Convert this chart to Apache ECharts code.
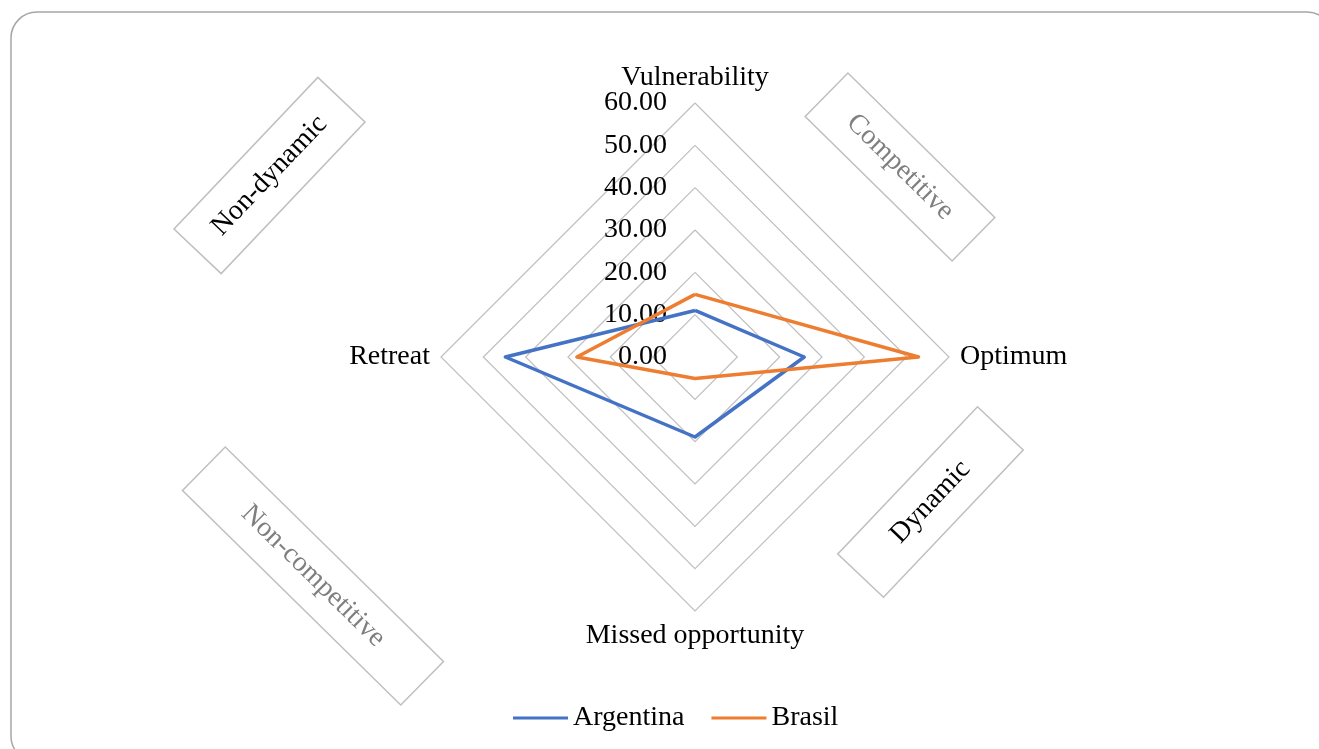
<!DOCTYPE html>
<html>
<head>
<meta charset="utf-8">
<script src="https://cdn.jsdelivr.net/npm/echarts@6/dist/echarts.min.js"></script>
<style>
  html, body { margin: 0; padding: 0; background: #ffffff; }
  #chart { width: 1319px; height: 749px; }
</style>
</head>
<body>
<div id="chart"></div>
<script>
// Radar axes, listed counter-clockwise from the top
const categories = ['Vulnerability', 'Retreat', 'Missed opportunity', 'Optimum'];
const argentina = [11.0, 44.8, 18.9, 25.8];
const brasil = [14.8, 27.9, 5.1, 52.8];
const axisMax = 60;
const tickStep = 10;

const FONT = '"Liberation Serif", "Times New Roman", serif';
const FS = 28;
const cx = 695, cy = 357, R = 254;

// Rotated quadrant captions
function captionBox(text, x, y, w, h, deg, color) {
  return {
    type: 'group',
    x: x, y: y,
    rotation: deg * Math.PI / 180,
    children: [
      { type: 'rect', shape: { x: -w / 2, y: -h / 2, width: w, height: h },
        style: { fill: '#ffffff', stroke: '#bfbfbf', lineWidth: 1.5 } },
      { type: 'text', x: 0, y: 0,
        style: { text: text, fill: color, font: FS + 'px ' + FONT, align: 'center', verticalAlign: 'middle' } }
    ]
  };
}

const chart = echarts.init(document.getElementById('chart'), null, { renderer: 'canvas' });
chart.setOption({
  animation: false,
  backgroundColor: '#ffffff',
  textStyle: { fontFamily: FONT },
  legend: {
    bottom: 12,
    left: 508,
    icon: 'rect',
    itemWidth: 55,
    itemHeight: 3,
    itemGap: 27,
    textStyle: { fontFamily: FONT, fontSize: FS, color: '#000000' },
    data: ['Argentina', 'Brasil']
  },
  radar: {
    center: [cx, cy],
    radius: R,
    shape: 'polygon',
    splitNumber: axisMax / tickStep,
    startAngle: 90,
    nameGap: 11,
    axisName: { color: '#000000', fontFamily: FONT, fontSize: FS },
    indicator: categories.map(name => ({ name: name, min: 0, max: axisMax })),
    axisLine: { show: false },
    axisTick: { show: false },
    axisLabel: { show: false },
    splitLine: { lineStyle: { color: '#bfbfbf', width: 1.2 } },
    splitArea: { show: false }
  },
  // value scale shown along the upper radar spoke
  grid: { left: cx, top: cy - R, width: 1, height: R },
  xAxis: { type: 'value', show: false },
  yAxis: {
    type: 'value', min: 0, max: axisMax, interval: tickStep,
    axisLine: { show: false }, axisTick: { show: false }, splitLine: { show: false },
    axisLabel: { margin: 28, fontFamily: FONT, fontSize: FS, color: '#000000',
      formatter: v => v.toFixed(2) }
  },
  series: [{
    type: 'radar',
    symbol: 'none',
    data: [
      { name: 'Argentina', value: argentina,
        lineStyle: { color: '#4472C4', width: 3.5 }, itemStyle: { color: '#4472C4' } },
      { name: 'Brasil', value: brasil,
        lineStyle: { color: '#ED7D31', width: 3.5 }, itemStyle: { color: '#ED7D31' } }
    ]
  }],
  graphic: [
    { type: 'rect', z: -10, silent: true,
      shape: { x: 11, y: 12, width: 1322, height: 750, r: 26 },
      style: { fill: 'none', stroke: '#a6a6a6', lineWidth: 1.5 } },
    captionBox('Non-dynamic', 269.5, 175.5, 209, 65, 46.5, '#000000'),
    captionBox('Competitive', 900, 167, 206, 61, -44.5, '#7f7f7f'),
    captionBox('Dynamic', 930.5, 502, 203, 63, 46.5, '#000000'),
    captionBox('Non-competitive', 313, 576, 306, 61, -44.5, '#7f7f7f')
  ]
});
</script>
</body>
</html>
